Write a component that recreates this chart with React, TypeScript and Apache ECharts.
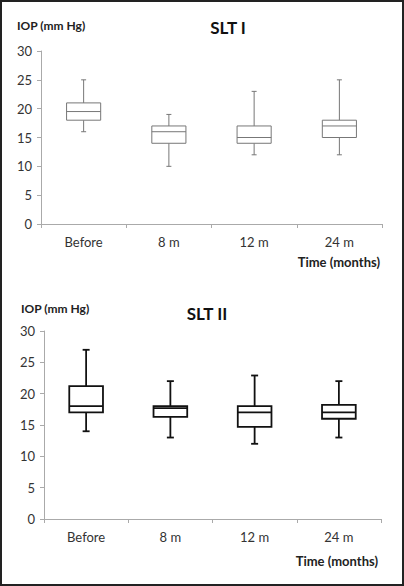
import React, { useEffect, useRef } from "react";
import * as echarts from "echarts";

const categories = ["Before", "8 m", "12 m", "24 m"];
const yTicks = [0, 5, 10, 15, 20, 25, 30];
// [min, q1, median, q3, max]
const slt1 = [
  [16, 18, 19.5, 21, 25],
  [10, 14, 16, 17, 19],
  [12, 14, 15, 17, 23],
  [12, 15, 17, 18, 25],
];
const slt2 = [
  [14, 17, 18, 21.2, 27],
  [13, 16.3, 17.7, 18, 22],
  [12, 14.7, 17, 18, 22.9],
  [13, 16, 17, 18.2, 22],
];

const font = "Lato, 'Open Sans', sans-serif";

function makeRender(color: string, lw: number, capW: number) {
  return (params: any, api: any) => {
    const x = api.value(0);
    const vals = [1, 2, 3, 4, 5].map((i) => api.value(i));
    const pts = vals.map((v) => api.coord([x, v]));
    const cx = pts[0][0];
    const bw = api.size([1, 0])[0] * 0.4;
    const half = bw / 2;
    const [pMin, pQ1, pMed, pQ3, pMax] = pts.map((p: number[]) => p[1]);
    const st = { stroke: color, lineWidth: lw, fill: "none" };
    return {
      type: "group",
      children: [
        { type: "line", shape: { x1: cx, y1: pMax, x2: cx, y2: pQ3 }, style: st },
        { type: "line", shape: { x1: cx, y1: pQ1, x2: cx, y2: pMin }, style: st },
        { type: "line", shape: { x1: cx - capW / 2, y1: pMax, x2: cx + capW / 2, y2: pMax }, style: st },
        { type: "line", shape: { x1: cx - capW / 2, y1: pMin, x2: cx + capW / 2, y2: pMin }, style: st },
        { type: "rect", shape: { x: cx - half, y: pQ3, width: bw, height: pQ1 - pQ3 }, style: { stroke: color, lineWidth: lw, fill: "#fff" } },
        { type: "line", shape: { x1: cx - half, y1: pMed, x2: cx + half, y2: pMed }, style: st },
      ],
    };
  };
}

export default function App() {
  const ref = useRef<HTMLDivElement>(null);
  useEffect(() => {
    document.body.style.margin = "0";
    const chart = echarts.init(ref.current!, null, { renderer: "svg" });
    const axisCommon = (gi: number) => ({
      gridIndex: gi,
      type: "category" as const,
      data: categories,
      boundaryGap: true,
      axisLine: { lineStyle: { color: "#aaa", width: 1 } },
      axisTick: { show: true, length: 4, lineStyle: { color: "#aaa" } },
      axisLabel: { color: "#333", fontFamily: font, fontSize: 13, margin: 11 },
    });
    const yCommon = (gi: number) => ({
      gridIndex: gi,
      type: "value" as const,
      min: yTicks[0],
      max: yTicks[yTicks.length - 1],
      interval: 5,
      splitLine: { show: false },
      axisLine: { show: true, lineStyle: { color: "#aaa", width: 1 } },
      axisTick: { show: true, length: 4, lineStyle: { color: "#aaa" } },
      axisLabel: { color: "#333", fontFamily: font, fontSize: 13, margin: 9 },
    });
    const data1 = slt1.map((d, i) => [i, ...d]);
    const data2 = slt2.map((d, i) => [i, ...d]);
    chart.setOption({
      animation: false,
      backgroundColor: "#fff",
      grid: [
        { left: 41, right: 22, top: 51, height: 173 },
        { left: 44, right: 23, top: 331, height: 188 },
      ],
      xAxis: [axisCommon(0), axisCommon(1)],
      yAxis: [yCommon(0), yCommon(1)],
      series: [
        {
          type: "custom",
          xAxisIndex: 0,
          yAxisIndex: 0,
          renderItem: makeRender("#777", 1, 5),
          encode: { x: 0, y: [1, 2, 3, 4, 5] },
          data: data1,
        },
        {
          type: "custom",
          xAxisIndex: 1,
          yAxisIndex: 1,
          renderItem: makeRender("#111", 1.8, 7),
          encode: { x: 0, y: [1, 2, 3, 4, 5] },
          data: data2,
        },
      ],
      graphic: [
        { type: "rect", shape: { x: 1, y: 1, width: 402, height: 584 }, style: { fill: "none", stroke: "#222", lineWidth: 2 } },
        { type: "text", x: 17, y: 25, style: { text: "IOP (mm Hg)", font: `bold 12px ${font}`, fill: "#222", verticalAlign: "middle" } },
        { type: "text", x: 228, y: 27, style: { text: "SLT I", font: `bold 17px ${font}`, fill: "#111", align: "center", verticalAlign: "middle" } },
        { type: "text", x: 380, y: 262, style: { text: "Time (months)", font: `bold 13px ${font}`, fill: "#222", align: "right", verticalAlign: "middle" } },
        { type: "text", x: 21, y: 308, style: { text: "IOP (mm Hg)", font: `bold 12px ${font}`, fill: "#222", verticalAlign: "middle" } },
        { type: "text", x: 207, y: 313, style: { text: "SLT II", font: `bold 17px ${font}`, fill: "#111", align: "center", verticalAlign: "middle" } },
        { type: "text", x: 378, y: 561, style: { text: "Time (months)", font: `bold 13px ${font}`, fill: "#222", align: "right", verticalAlign: "middle" } },
      ],
    });
    return () => chart.dispose();
  }, []);
  return <div ref={ref} style={{ width: 404, height: 586 }} />;
}
